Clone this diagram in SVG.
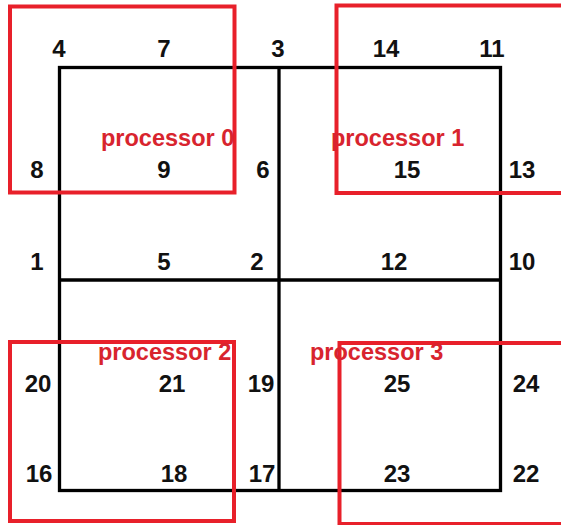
<svg xmlns="http://www.w3.org/2000/svg" width="561" height="525" viewBox="0 0 561 525">
<style>
.grid{fill:none;stroke:#000;stroke-width:3.3}
.proc{fill:none;stroke:#e8202a;stroke-width:4}
.num{font-family:"Liberation Sans",Arial,sans-serif;font-weight:bold;font-size:24px;fill:#111;text-anchor:middle}
.plabel{font-family:"Liberation Sans",Arial,sans-serif;font-weight:bold;font-size:23.5px;fill:#d8242e}
</style>
<rect width="561" height="525" fill="#fff"/>
<g id="grid">
<rect class="grid" x="59.5" y="67.5" width="441" height="423"/>
<line class="grid" x1="279" y1="67.5" x2="279" y2="490.5"/>
<line class="grid" x1="59.5" y1="280" x2="500.5" y2="280"/>
</g>
<g id="labels">
<text class="num" x="59" y="57">4</text>
<text class="num" x="164" y="57">7</text>
<text class="num" x="278" y="57">3</text>
<text class="num" x="386" y="57">14</text>
<text class="num" x="492" y="57">11</text>
<text class="num" x="37" y="178">8</text>
<text class="num" x="164" y="178">9</text>
<text class="num" x="263" y="178">6</text>
<text class="num" x="407" y="178">15</text>
<text class="num" x="522" y="178">13</text>
<text class="num" x="37" y="270">1</text>
<text class="num" x="164" y="270">5</text>
<text class="num" x="257" y="270">2</text>
<text class="num" x="394" y="270">12</text>
<text class="num" x="522" y="270">10</text>
<text class="num" x="38" y="392">20</text>
<text class="num" x="172" y="392">21</text>
<text class="num" x="261" y="392">19</text>
<text class="num" x="397" y="392">25</text>
<text class="num" x="526" y="392">24</text>
<text class="num" x="39" y="482">16</text>
<text class="num" x="174" y="482">18</text>
<text class="num" x="262" y="482">17</text>
<text class="num" x="397" y="482">23</text>
<text class="num" x="526" y="482">22</text>
</g>
<g id="processor0">
<rect class="proc" x="10" y="6.5" width="224.5" height="186"/>
<text class="plabel" x="101" y="146">processor 0</text>
</g>
<g id="processor1">
<rect class="proc" x="336.5" y="5.5" width="240" height="187.5"/>
<text class="plabel" x="331" y="146">processor 1</text>
</g>
<g id="processor2">
<rect class="proc" x="10" y="342" width="224" height="179"/>
<text class="plabel" x="98" y="360">processor 2</text>
</g>
<g id="processor3">
<rect class="proc" x="339.5" y="343" width="240" height="181"/>
<text class="plabel" x="310" y="360">processor 3</text>
</g>
</svg>
